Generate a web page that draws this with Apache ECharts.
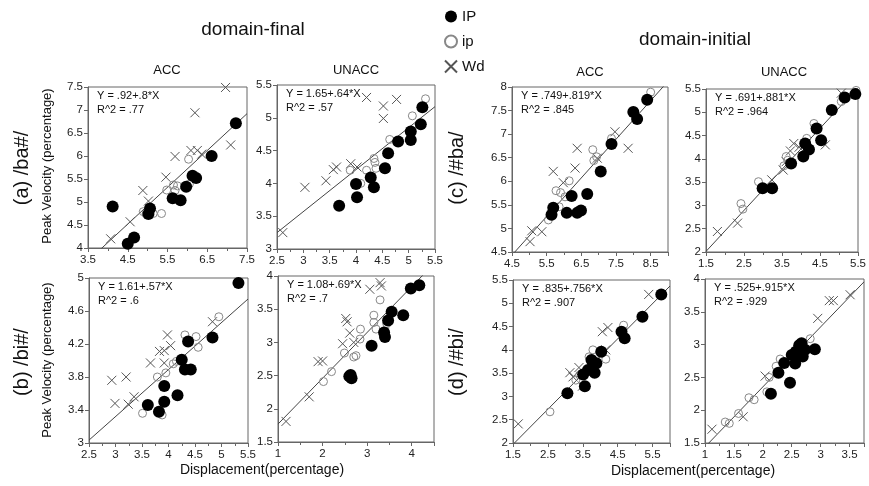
<!DOCTYPE html>
<html>
<head>
<meta charset="utf-8">
<script src="https://cdn.jsdelivr.net/npm/echarts@6/dist/echarts.min.js"></script>
<style>
  html, body { margin: 0; background: #fff; }
  #chart { width: 869px; height: 486px; }
</style>
</head>
<body>
<div id="chart"></div>
<script>
// (a) /ba#/ domain-final
const aAccIP = [[4.12, 4.9], [4.5, 4.09], [4.66, 4.23], [5.02, 4.74], [5.06, 4.86], [5.63, 5.08], [5.83, 5.04], [5.97, 5.33], [6.13, 5.57], [6.22, 5.52], [6.61, 6.0], [7.22, 6.71]];
const aAccIp = [[4.89, 4.79], [4.96, 4.74], [5.14, 4.75], [5.35, 4.75], [5.48, 5.26], [5.65, 5.37], [5.69, 5.25], [5.75, 5.35], [6.05, 5.39], [6.03, 5.93]];
const aAccWd = [[4.07, 4.2], [4.56, 4.57], [4.88, 5.25], [5.02, 5.02], [5.46, 5.54], [5.69, 5.99], [6.09, 6.12], [6.25, 6.12], [6.36, 6.04], [6.19, 6.94], [6.96, 7.49], [7.09, 6.24]];
const aUnaccIP = [[3.68, 3.66], [4.0, 3.99], [4.02, 3.79], [4.28, 4.09], [4.34, 3.94], [4.55, 4.23], [4.61, 4.46], [4.8, 4.64], [5.04, 4.79], [5.04, 4.66], [5.23, 4.9], [5.26, 5.16]];
const aUnaccIp = [[3.89, 4.2], [4.09, 4.0], [4.2, 4.2], [4.34, 4.38], [4.36, 4.32], [4.38, 4.23], [4.57, 4.25], [4.64, 4.67], [5.07, 5.03], [5.32, 5.29]];
const aUnaccWd = [[2.61, 3.25], [3.03, 3.94], [3.43, 4.04], [3.57, 4.21], [3.63, 4.25], [3.9, 4.3], [4.02, 4.25], [4.2, 5.31], [4.52, 5.18], [4.52, 4.99], [4.77, 5.28]];
// (b) /bi#/ domain-final
const bAccIP = [[3.61, 3.46], [3.82, 3.38], [3.92, 3.5], [3.92, 3.69], [4.17, 3.58], [4.25, 4.01], [4.31, 3.89], [4.42, 3.89], [4.37, 4.23], [4.83, 4.28], [5.32, 4.94]];
const bAccIp = [[3.51, 3.36], [3.88, 3.34], [3.79, 3.8], [3.95, 3.85], [4.09, 3.96], [4.15, 3.99], [4.31, 4.31], [4.52, 4.29], [4.56, 4.16], [4.95, 4.53]];
const bAccWd = [[2.93, 3.76], [2.99, 3.48], [3.2, 3.8], [3.24, 3.47], [3.35, 3.56], [3.66, 3.97], [3.83, 4.11], [3.92, 4.12], [3.92, 3.97], [3.98, 4.31], [4.04, 4.18], [4.83, 4.47]];
const bUnaccIP = [[2.6, 2.49], [2.65, 2.46], [2.63, 2.51], [3.1, 2.95], [3.38, 3.15], [3.4, 3.08], [3.47, 3.33], [3.55, 3.46], [3.81, 3.41], [3.98, 3.81], [4.17, 3.86]];
const bUnaccIp = [[2.02, 2.41], [2.2, 2.56], [2.49, 2.84], [2.7, 2.78], [2.75, 2.8], [2.84, 3.05], [2.85, 3.2], [3.15, 3.41], [3.15, 3.3], [3.2, 3.2], [3.29, 3.64], [3.44, 3.28]];
const bUnaccWd = [[1.18, 1.81], [1.7, 2.18], [1.9, 2.71], [2.0, 2.72], [2.45, 2.98], [2.52, 3.36], [2.55, 3.31], [2.61, 3.14], [2.7, 3.0], [3.06, 3.8], [3.29, 3.9], [3.32, 3.85]];
// (c) /#ba/ domain-initial
const cAccIP = [[5.64, 5.29], [5.69, 5.44], [6.08, 5.33], [6.22, 5.69], [6.38, 5.33], [6.49, 5.38], [6.67, 5.73], [7.06, 6.21], [7.37, 6.79], [8.0, 7.47], [8.11, 7.32], [8.4, 7.73]];
const cAccIp = [[5.55, 5.18], [5.86, 5.46], [5.77, 5.8], [5.9, 5.76], [6.03, 5.67], [6.15, 6.01], [6.83, 6.67], [6.86, 6.44], [6.94, 6.52], [7.37, 6.91], [8.5, 7.89]];
const cAccWd = [[5.02, 4.72], [5.07, 4.95], [5.36, 4.93], [5.69, 6.21], [5.98, 5.97], [6.32, 6.28], [6.38, 6.7], [6.96, 6.49], [7.47, 7.05], [7.85, 6.7]];
const cUnaccIP = [[2.99, 3.37], [3.24, 3.37], [3.74, 3.9], [4.06, 4.05], [4.11, 4.33], [4.21, 4.2], [4.41, 4.65], [4.53, 4.4], [4.81, 5.05], [5.15, 5.32], [5.43, 5.39]];
const cUnaccIp = [[2.42, 3.04], [2.47, 2.92], [2.88, 3.51], [3.55, 3.85], [3.61, 4.05], [3.65, 3.97], [4.15, 4.44], [4.34, 4.76], [5.06, 5.23], [5.45, 5.47]];
const cUnaccWd = [[1.8, 2.44], [2.33, 2.62], [3.23, 3.55], [3.53, 3.76], [3.61, 3.94], [3.72, 4.17], [3.81, 4.33], [3.95, 4.25], [4.64, 4.3], [5.06, 5.41]];
// (d) /#bi/ domain-initial
const dAccIP = [[3.06, 3.07], [3.51, 3.47], [3.56, 3.22], [3.65, 3.57], [3.75, 3.78], [3.84, 3.51], [3.89, 3.71], [4.03, 3.96], [4.61, 4.39], [4.7, 4.25], [5.21, 4.71], [5.75, 5.19]];
const dAccIp = [[2.56, 2.67], [3.3, 3.35], [3.41, 3.46], [3.68, 3.85], [3.79, 4.0], [4.16, 3.8], [4.67, 4.53]];
const dAccWd = [[1.65, 2.41], [3.13, 3.51], [3.22, 3.42], [3.39, 3.62], [3.49, 3.22], [4.06, 4.39], [4.22, 4.48], [4.16, 4.0], [5.39, 5.19]];
const dUnaccIP = [[2.14, 2.25], [2.27, 2.57], [2.37, 2.72], [2.47, 2.42], [2.5, 2.84], [2.56, 2.71], [2.57, 2.89], [2.6, 2.86], [2.63, 2.99], [2.66, 2.92], [2.67, 3.02], [2.69, 2.82], [2.73, 2.92], [2.9, 2.93]];
const dUnaccIp = [[1.35, 1.82], [1.42, 1.8], [1.58, 1.95], [1.76, 2.19], [1.85, 2.16], [2.07, 2.28], [2.11, 2.5], [2.23, 2.67], [2.3, 2.78], [2.82, 3.09]];
const dUnaccWd = [[1.12, 1.71], [1.66, 1.9], [2.04, 2.52], [2.95, 3.4], [3.15, 3.67], [3.22, 3.67], [3.51, 3.76]];

// axis ranges and tick steps, panel order: aAcc aUnacc bAcc bUnacc cAcc cUnacc dAcc dUnacc
const xMin = [3.5, 2.5, 2.5, 1, 4.5, 1.5, 1.5, 1];
const xMax = [7.5, 5.5, 5.5, 4.5, 9, 5.5, 6, 3.75];
const xStep = [1, 0.5, 0.5, 1, 1, 1, 1, 0.5];
const yMin = [4, 3, 3, 1.5, 4.5, 2, 2, 1.5];
const yMax = [7.5, 5.5, 5, 4, 8, 5.5, 5.5, 4];
const yStep = [0.5, 0.5, 0.4, 0.5, 0.5, 0.5, 0.5, 0.5];

// fitted lines
const intercepts = [0.92, 1.65, 1.61, 1.08, 0.749, 0.691, 0.835, 0.525];
const slopes = [0.8, 0.64, 0.57, 0.69, 0.819, 0.881, 0.756, 0.915];
const eqLabels = ['Y = .92+.8*X', 'Y = 1.65+.64*X', 'Y = 1.61+.57*X', 'Y = 1.08+.69*X',
  'Y = .749+.819*X', 'Y = .691+.881*X', 'Y = .835+.756*X', 'Y = .525+.915*X'];
const r2Labels = ['R^2 = .77', 'R^2 = .57', 'R^2 = .6', 'R^2 = .7',
  'R^2 = .845', 'R^2 = .964', 'R^2 = .907', 'R^2 = .929'];

const ipData = [aAccIP, aUnaccIP, bAccIP, bUnaccIP, cAccIP, cUnaccIP, dAccIP, dUnaccIP];
const ipOpenData = [aAccIp, aUnaccIp, bAccIp, bUnaccIp, cAccIp, cUnaccIp, dAccIp, dUnaccIp];
const wdData = [aAccWd, aUnaccWd, bAccWd, bUnaccWd, cAccWd, cUnaccWd, dAccWd, dUnaccWd];

// plot boxes [left, top, width, height]
const boxes = [
  [88, 87, 159, 161], [277, 85, 158, 164],
  [89, 278, 159, 165], [278, 276, 156, 166],
  [512, 87, 156, 165], [706, 89, 156, 163],
  [513, 280, 157, 163], [705, 279, 159, 164]
];

const FONT = '"Liberation Sans", Arial, sans-serif';
const crossPath = 'path://M0,0L10,10M10,0L0,10';
const axisColor = '#666';

const chart = echarts.init(document.getElementById('chart'), null, { renderer: 'canvas' });

const grids = [], xAxes = [], yAxes = [], series = [], graphics = [];

boxes.forEach((b, i) => {
  grids.push({
    left: b[0], top: b[1], width: b[2], height: b[3],
    show: true, borderColor: axisColor, borderWidth: 1, containLabel: false
  });
  // hide the end label when the axis max does not sit on a step
  const steps = (xMax[i] - xMin[i]) / xStep[i];
  const hideMaxX = Math.abs(steps - Math.round(steps)) > 1e-6;
  xAxes.push({
    gridIndex: i, type: 'value', min: xMin[i], max: xMax[i], interval: xStep[i],
    axisLine: { show: true, lineStyle: { color: axisColor } },
    axisTick: { show: true, length: 4, lineStyle: { color: axisColor } },
    minorTick: { show: true, splitNumber: 2, length: 3, lineStyle: { color: axisColor } },
    splitLine: { show: false },
    axisLabel: { fontSize: 11.5, color: '#222', fontFamily: FONT, margin: 6, showMaxLabel: !hideMaxX }
  });
  yAxes.push({
    gridIndex: i, type: 'value', min: yMin[i], max: yMax[i], interval: yStep[i],
    axisLine: { show: true, lineStyle: { color: axisColor } },
    axisTick: { show: true, length: 4, lineStyle: { color: axisColor } },
    splitLine: { show: false },
    axisLabel: { fontSize: 11.5, color: '#222', fontFamily: FONT, margin: 5 }
  });

  series.push({
    type: 'line', xAxisIndex: i, yAxisIndex: i, silent: true, symbol: 'none',
    clip: true, z: 1,
    lineStyle: { color: '#444', width: 1 },
    data: [[xMin[i], intercepts[i] + slopes[i] * xMin[i]], [xMax[i], intercepts[i] + slopes[i] * xMax[i]]]
  });
  series.push({
    name: 'Wd', type: 'scatter', xAxisIndex: i, yAxisIndex: i, z: 2,
    symbol: crossPath, symbolSize: 9,
    itemStyle: { color: 'transparent', borderColor: '#555', borderWidth: 1, opacity: 1 },
    data: wdData[i]
  });
  series.push({
    name: 'ip', type: 'scatter', xAxisIndex: i, yAxisIndex: i, z: 3,
    symbol: 'circle', symbolSize: 8,
    itemStyle: { color: 'transparent', borderColor: '#888', borderWidth: 1, opacity: 1 },
    data: ipOpenData[i]
  });
  series.push({
    name: 'IP', type: 'scatter', xAxisIndex: i, yAxisIndex: i, z: 4,
    symbol: 'circle', symbolSize: 12,
    itemStyle: { color: '#000', opacity: 1 },
    data: ipData[i]
  });

  graphics.push({
    type: 'text', x: b[0] + 9, y: b[1] + 9,
    style: { text: eqLabels[i], font: '11px ' + FONT, fill: '#111', textVerticalAlign: 'middle' }
  });
  graphics.push({
    type: 'text', x: b[0] + 9, y: b[1] + 23,
    style: { text: r2Labels[i], font: '11px ' + FONT, fill: '#111', textVerticalAlign: 'middle' }
  });
});

function label(text, x, y, size, rot) {
  graphics.push({
    type: 'text', x: x, y: y, rotation: rot || 0,
    style: { text: text, font: size + 'px ' + FONT, fill: '#111', textAlign: 'center', textVerticalAlign: 'middle' }
  });
}

label('domain-final', 253, 30, 19);
label('domain-initial', 695, 40, 19);
label('ACC', 167, 70, 13);
label('UNACC', 356, 70, 13);
label('ACC', 590, 72, 13);
label('UNACC', 784, 72, 13);
label('(a) /ba#/', 22, 168, 20, Math.PI / 2);
label('(b) /bi#/', 22, 362, 20, Math.PI / 2);
label('(c) /#ba/', 457, 168, 20, Math.PI / 2);
label('(d) /#bi/', 457, 362, 20, Math.PI / 2);
label('Peak Velocity (percentage)', 47, 166, 13, Math.PI / 2);
label('Peak Velocity (percentage)', 47, 360, 13, Math.PI / 2);
label('Displacement(percentage)', 262, 470, 14);
label('Displacement(percentage)', 693, 471, 14);

chart.setOption({
  animation: false,
  backgroundColor: '#fff',
  legend: {
    data: ['IP', 'ip', 'Wd'],
    orient: 'vertical', left: 439, top: 4,
    itemWidth: 12, itemHeight: 12, itemGap: 10,
    textStyle: { fontSize: 15, color: '#111', fontFamily: FONT },
    selectedMode: false
  },
  grid: grids,
  xAxis: xAxes,
  yAxis: yAxes,
  series: series,
  graphic: graphics
});

window.addEventListener('resize', () => chart.resize());
</script>
</body>
</html>
